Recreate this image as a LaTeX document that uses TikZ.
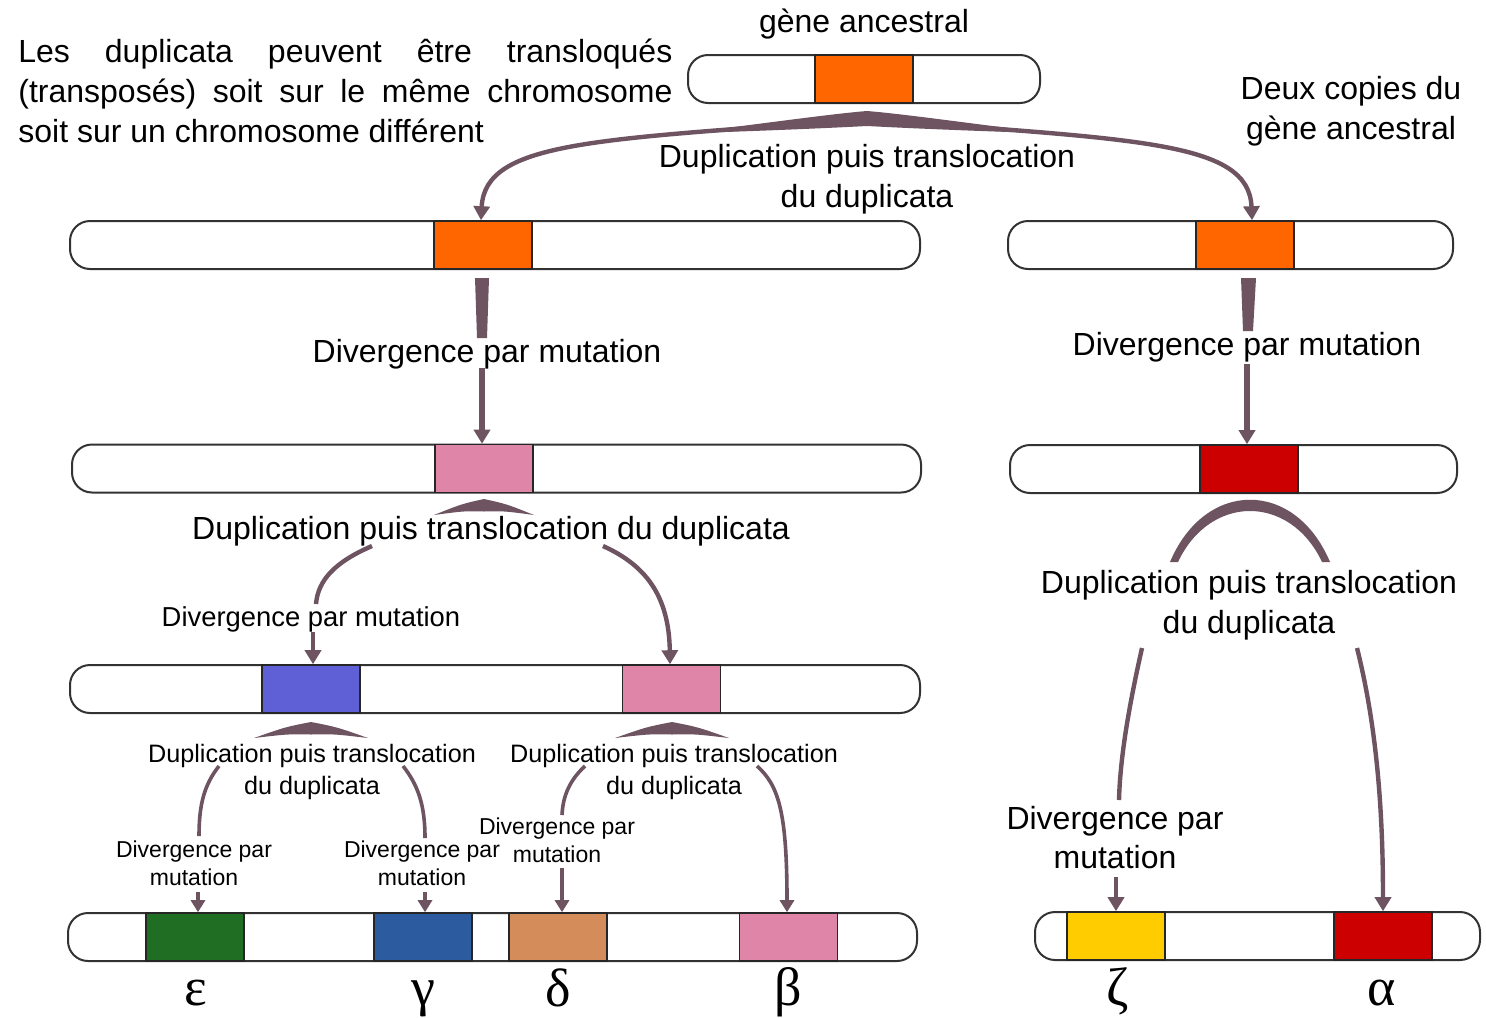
\documentclass[tikz,border=0pt]{standalone}
\usepackage{fontspec}
\setmainfont{Liberation Sans}
\newfontfamily\grk{Liberation Serif}
\usetikzlibrary{arrows.meta}
\definecolor{arrc}{HTML}{6E5461}
\definecolor{gorange}{HTML}{FF6600}
\definecolor{gpink}{HTML}{DE85A8}
\definecolor{gred}{HTML}{CC0000}
\definecolor{gviolet}{HTML}{5F5FD6}
\definecolor{ggreen}{HTML}{1F6E24}
\definecolor{gblue}{HTML}{2C5BA0}
\definecolor{gtan}{HTML}{D58C5B}
\definecolor{gyellow}{HTML}{FFCC00}
\newcommand{\mkhat}[3]{\fill[arrc] (#1-#3,#2+16) .. controls (#1-#3*0.45,#2+5) .. (#1,#2) .. controls (#1+#3*0.45,#2+5) .. (#1+#3,#2+16) .. controls (#1+#3*0.4,#2+12) .. (#1,#2+12.5) .. controls (#1-#3*0.4,#2+12) .. (#1-#3,#2+16) -- cycle;}
\tikzset{
  chrom/.style={draw=black!80, line width=1pt, rounded corners=10pt, minimum height=24pt, inner sep=0pt, fill=white},
  gene/.style={draw=black!85, line width=0.8pt, minimum width=49pt, minimum height=24pt, inner sep=0pt},
  big/.style={font=\fontsize{16}{20}\selectfont, align=center, inner sep=1pt},
  mid/.style={font=\fontsize{13.7}{17}\selectfont, align=center, inner sep=1pt},
  smalldup/.style={font=\fontsize{12.6}{16}\selectfont, align=center, inner sep=1pt},
  smalldiv/.style={font=\fontsize{11.5}{14}\selectfont, align=center, inner sep=1pt},
  greek/.style={font=\grk\fontsize{27}{30}\selectfont, anchor=base, inner sep=0pt},
  arr/.style={draw=arrc, line width=2.2pt, -{Triangle[length=7pt,width=8pt]}},
  sarr/.style={draw=arrc, line width=1.8pt, -{Triangle[length=6pt,width=7pt]}},
  link/.style={draw=arrc, line width=2.2pt},
  slink/.style={draw=arrc, line width=1.8pt},
}
\begin{document}
\begin{tikzpicture}[x=0.5pt,y=-0.5pt]
\path[fill=white,use as bounding box] (0,0) rectangle (1486,1017);

% chromosomes
\node[chrom, minimum width=176pt] (c0) at (864,79) {};
\node[chrom, minimum width=425pt] (c1) at (495,245) {};
\node[chrom, minimum width=222.5pt] (c2) at (1230.5,245) {};
\node[chrom, minimum width=424.5pt] (c3) at (496.5,468.5) {};
\node[chrom, minimum width=223.5pt] (c4) at (1233.5,469) {};
\node[chrom, minimum width=425pt] (c5) at (495,689) {};
\node[chrom, minimum width=424.5pt] (c6) at (492.5,937) {};
\node[chrom, minimum width=222.5pt] (c7) at (1257.5,936) {};

% genes
\node[gene, fill=gorange] (g0) at (864,79) {};
\node[gene, fill=gorange] (g1) at (483,245) {};
\node[gene, fill=gorange] (g2) at (1245,245) {};
\node[gene, fill=gpink] (g3) at (484,468.5) {};
\node[gene, fill=gred] (g4) at (1249,469) {};
\node[gene, fill=gviolet] (g5a) at (311,689) {};
\node[gene, fill=gpink] (g5b) at (671.5,689) {};
\node[gene, fill=ggreen] (g6a) at (195,937) {};
\node[gene, fill=gblue] (g6b) at (423,937) {};
\node[gene, fill=gtan] (g6c) at (558,937) {};
\node[gene, fill=gpink] (g6d) at (788.5,937) {};
\node[gene, fill=gyellow] (g7a) at (1116,936) {};
\node[gene, fill=gred] (g7b) at (1383,936) {};

% texts
\node[big] (tgene) at (864,24) {gène ancestral};
\node[big, anchor=west, align=left, inner sep=0pt] (tpara) at (18,91)
  {\makebox[327pt][s]{Les duplicata peuvent être transloqués}\\
   \makebox[327pt][s]{(transposés) soit sur le même chromosome}\\
   soit sur un chromosome différent};
\node[big] (tcopies) at (1351,111) {Deux copies du\\gène ancestral};
\node[big] (tdup1) at (867,179) {Duplication puis translocation\\du duplicata};
\node[big] (tdiv1) at (487,354) {Divergence par mutation};
\node[big] (tdiv2) at (1247,347) {Divergence par mutation};
\node[big] (tdup2) at (491,531) {Duplication puis translocation du duplicata};
\node[mid] (tdiv3) at (311,619) {Divergence par mutation};
\node[big] (tdup3) at (1249,605) {Duplication puis translocation\\du duplicata};
\node[smalldup] (tdup4) at (312,772) {Duplication puis translocation\\du duplicata};
\node[smalldup] (tdup5) at (674,772) {Duplication puis translocation\\du duplicata};
\node[smalldiv] (tdiv4) at (194,863) {Divergence par\\mutation};
\node[smalldiv] (tdiv5) at (422,863) {Divergence par\\mutation};
\node[smalldiv] (tdiv6) at (557,840) {Divergence par\\mutation};
\node[big, font=\fontsize{16}{19.5}\selectfont] (tdiv7) at (1115,838) {Divergence par\\mutation};

% greek labels
\node[greek] (le) at (196,1005) {ε};
\node[greek] (lg) at (423,1005) {γ};
\node[greek] (ld) at (558,1006) {δ};
\node[greek] (lb) at (788,1005) {β};
\node[greek] (lz) at (1118,1005) {ζ};
\node[greek] (la) at (1382,1005) {α};

% top duplication
\coordinate (apex0) at (867,119);
\fill[arrc] (867,111) .. controls (830,114) and (760,124) .. (683,133.4) .. controls (760,131) and (830,128) .. (867,126) .. controls (904,128) and (974,131) .. (1051,133.4) .. controls (974,124) and (904,114) .. (867,111) -- cycle;
\draw[arr] (apex0) .. controls (600,140) and (485,140) .. ([xshift=-1pt]g1.north);
\draw[arr] (apex0) .. controls (1134,140) and (1249,140) .. ([xshift=3.5pt]g2.north);

% divergence row 2
\fill[arrc] (475,278) -- (489,278) -- (487,338) -- (477,338) -- cycle;
\coordinate (dv1) at (482,368);
\draw[arr, line width=2.6pt] (dv1) -- ([xshift=-1pt]g3.north);
\fill[arrc] (1241,278) -- (1256,278) -- (1253,331) -- (1243,331) -- cycle;
\coordinate (dv2) at (1247,364);
\draw[arr, line width=2.6pt] (dv2) -- ([xshift=-1pt]g4.north);

% row 3 left duplication
\mkhat{484}{499}{50}
\coordinate (b3l) at (372,546);
\draw[link] (b3l) .. controls (335,562) and (318,580) .. (316,604);
\coordinate (d3) at (313,632);
\draw[arr] (d3) -- ([xshift=1pt]g5a.north);
\coordinate (b3r) at (603,546);
\draw[arr] (b3r) .. controls (645,565) and (669,595) .. ([xshift=-0.75pt]g5b.north);

% row 3 right duplication
\fill[arrc] (1170,562) .. controls (1205,479) and (1295,479) .. (1330,562) -- (1322,562) .. controls (1290,494) and (1210,494) .. (1178,562) -- cycle;
\coordinate (b4l) at (1142,648);
\draw[link] (b4l) .. controls (1128,710) and (1120,760) .. (1119,800);
\coordinate (d4) at (1116,877);
\draw[arr] (d4) -- (g7a.north);
\coordinate (b4r) at (1357,648);
\draw[arr] (b4r) .. controls (1375,720) and (1383,800) .. (g7b.north);

% row 4 left group
\mkhat{311}{722}{57}
\coordinate (b5l) at (219,766);
\draw[slink] (b5l) .. controls (204,785) and (199,805) .. (199,836);
\coordinate (d5l) at (198,892);
\draw[sarr] (d5l) -- ([xshift=1.5pt]g6a.north);
\coordinate (b5r) at (403,766);
\draw[slink] (b5r) .. controls (418,785) and (425,805) .. (425,838);
\coordinate (d5r) at (425,892);
\draw[sarr] (d5r) -- ([xshift=1pt]g6b.north);

% row 4 right group
\mkhat{672}{722}{57}
\coordinate (b6l) at (585,766);
\draw[slink] (b6l) .. controls (570,780) and (563,795) .. (562,815);
\coordinate (d6l) at (562,868);
\draw[sarr] (d6l) -- ([xshift=2pt]g6c.north);
\coordinate (b6r) at (757,766);
\draw[sarr] (b6r) .. controls (778,785) and (787,810) .. ([xshift=-0.75pt]g6d.north);
\end{tikzpicture}
\end{document}
